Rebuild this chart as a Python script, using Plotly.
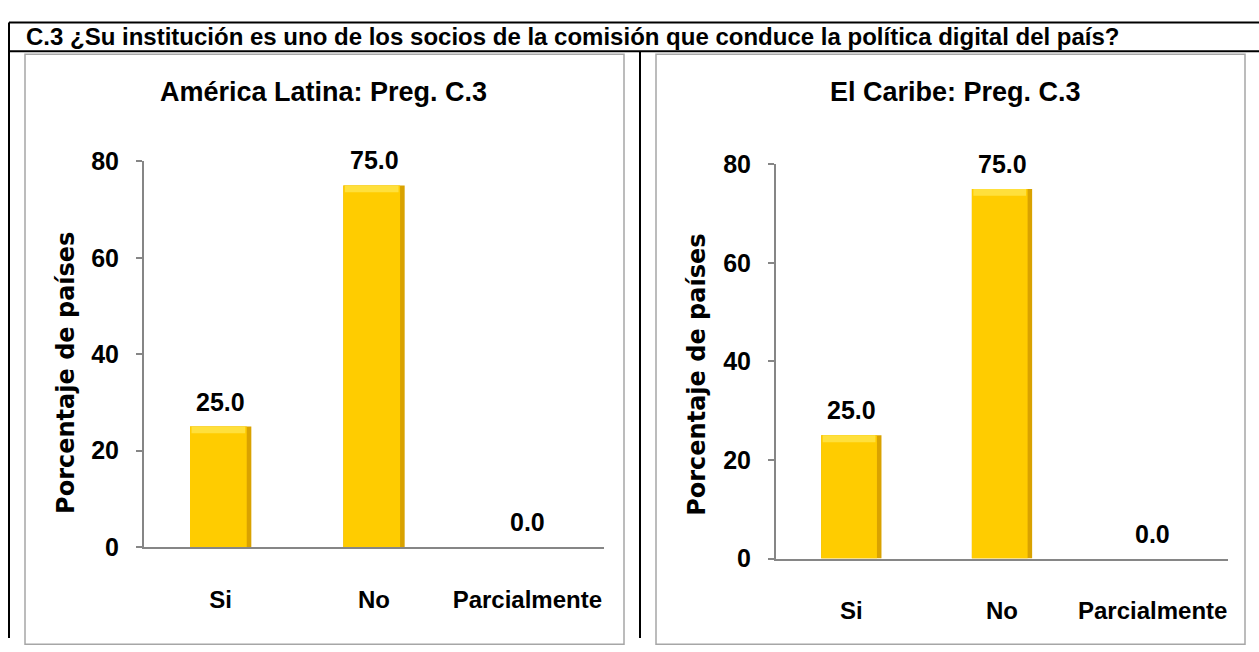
import plotly.graph_objects as go

# data
categorias = ["Si", "No", "Parcialmente"]
america_latina = [25.0, 75.0, 0.0]
el_caribe = [25.0, 75.0, 0.0]
y_ticks = [0, 20, 40, 60, 80]

header = "C.3 ¿Su institución es uno de los socios de la comisión que conduce la política digital del país?"
titulo_al = "América Latina: Preg. C.3"
titulo_car = "El Caribe: Preg. C.3"
y_titulo = "Porcentaje de países"

W, H = 1259, 652
NARROW = "Liberation Sans Narrow, Arial Narrow, Liberation Sans, Arial, sans-serif"
GOLD = "#FFCC00"
GOLD_DARK = "#D9A200"
GOLD_LIGHT = "#FFE03C"
AXIS_GRAY = "#868686"


def px(x):
    return x / W


def py(y):
    return 1 - y / H


fig = go.Figure()

panels = [
    (america_latina, "x", "y"),
    (el_caribe, "x2", "y2"),
]
for vals, xa, ya in panels:
    # darker base bar gives the shaded right edge
    fig.add_trace(go.Bar(x=categorias, y=vals, xaxis=xa, yaxis=ya, width=0.4,
                         marker=dict(color=GOLD_DARK, line=dict(width=0)),
                         hoverinfo="skip", showlegend=False))
    fig.add_trace(go.Bar(x=categorias, y=vals, xaxis=xa, yaxis=ya, width=0.37, offset=-0.2,
                         marker=dict(color=GOLD, line=dict(width=0)),
                         showlegend=False))
    # light bevel on top of each non-empty bar
    top = [(c, v) for c, v in zip(categorias, vals) if v > 0]
    fig.add_trace(go.Bar(x=[c for c, _ in top], y=[1.4] * len(top),
                         base=[v - 1.4 for _, v in top], xaxis=xa, yaxis=ya,
                         width=0.35, offset=-0.19,
                         marker=dict(color=GOLD_LIGHT, line=dict(width=0)),
                         hoverinfo="skip", showlegend=False))
    for c, v in zip(categorias, vals):
        fig.add_annotation(x=c, y=v, xref=xa, yref=ya, text=f"{v:.1f}", showarrow=False,
                           yshift=25, yanchor="middle",
                           font=dict(family=NARROW, size=25, color="black", weight="bold"))

xaxis_style = dict(type="category", range=[-0.5, 2.5], showline=True, linecolor=AXIS_GRAY,
                   linewidth=2, showgrid=False, zeroline=False, ticks="outside", ticklen=30,
                   tickcolor="rgba(0,0,0,0)",
                   tickfont=dict(family=NARROW, size=24, color="black", weight="bold"))
yaxis_style = dict(range=[0, 80], tickvals=y_ticks, showline=True, linecolor=AXIS_GRAY,
                   linewidth=2, showgrid=False, zeroline=False, ticks="outside", ticklen=6,
                   tickwidth=1.5, tickcolor=AXIS_GRAY, ticklabelstandoff=12,
                   tickfont=dict(family=NARROW, size=25, color="black", weight="bold"))

fig.update_layout(
    width=W, height=H,
    margin=dict(l=0, r=0, t=0, b=0),
    paper_bgcolor="white", plot_bgcolor="white",
    barmode="overlay",
    xaxis=dict(domain=[px(144), px(604)], anchor="y", **xaxis_style),
    yaxis=dict(domain=[py(557), py(154)], anchor="x", **yaxis_style),
    xaxis2=dict(domain=[px(776), px(1228)], anchor="y2", **xaxis_style),
    yaxis2=dict(domain=[py(569), py(157)], anchor="x2", **yaxis_style),
)

# table frame and chart boxes
line_black = dict(color="black", width=2)
line_gray = dict(color="#A6A6A6", width=1.5)
shapes = [
    dict(type="line", x0=px(9), x1=1, y0=py(9), y1=py(9), line=line_black),
    dict(type="line", x0=px(9), x1=1, y0=py(39), y1=py(39), line=line_black),
    dict(type="line", x0=px(9), x1=px(9), y0=py(9), y1=0, line=line_black),
    dict(type="line", x0=px(640), x1=px(640), y0=py(39), y1=0, line=line_black),
    dict(type="rect", x0=px(25), x1=px(624), y0=py(42), y1=-0.01, line=line_gray),
    dict(type="rect", x0=px(656), x1=px(1245), y0=py(42), y1=-0.01, line=line_gray),
]
for s in shapes:
    s.update(xref="paper", yref="paper", layer="below")
fig.update_layout(shapes=shapes)

fig.add_annotation(x=px(24), y=py(24), xref="paper", yref="paper", text=header,
                   showarrow=False, xanchor="left", yanchor="middle",
                   font=dict(family="Liberation Sans, Arial, sans-serif", size=24,
                             color="black", weight="bold"))

for xc, yc, t in [(323, 82, titulo_al), (955, 82, titulo_car)]:
    fig.add_annotation(x=px(xc), y=py(yc), xref="paper", yref="paper", text=t,
                       showarrow=False, xanchor="center", yanchor="middle",
                       font=dict(family=NARROW, size=27, color="black", weight="bold"))

for xc, yc in [(66, 375), (697, 377)]:
    fig.add_annotation(x=px(xc), y=py(yc), xref="paper", yref="paper", text=y_titulo,
                       showarrow=False, textangle=-90, xanchor="center", yanchor="middle",
                       font=dict(family="DejaVu Sans, Arial, sans-serif", size=24,
                                 color="black", weight="bold"))

# the page body has a default 8px margin; drop it so the figure sits at the window origin
fig.write_html("out.html", config={"displayModeBar": False},
               post_script="document.body.style.margin = '0';")
